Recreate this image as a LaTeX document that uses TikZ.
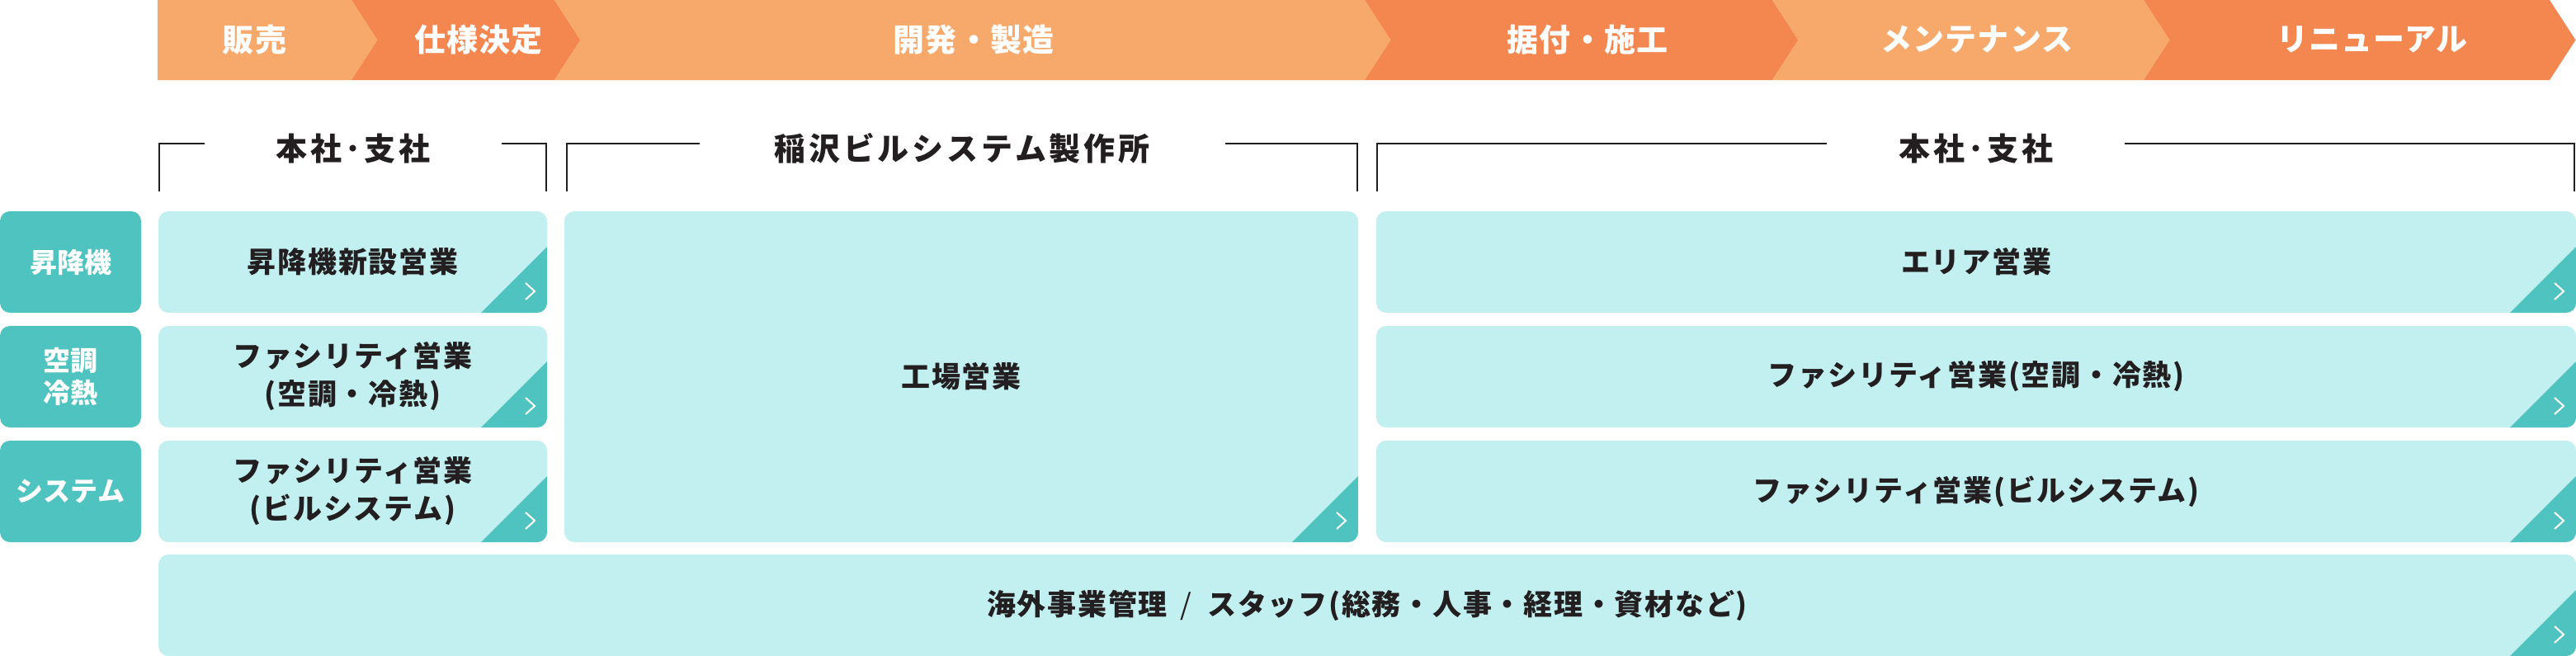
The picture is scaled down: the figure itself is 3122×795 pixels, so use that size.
\documentclass[tikz,border=0pt]{standalone}
\usepackage{fontspec}
\setmainfont{Noto Sans CJK JP}
\newfontfamily\jpstage{Noto Sans CJK JP}[LetterSpace=3]
\newfontfamily\jphead{Noto Sans CJK JP}[LetterSpace=10]
\newfontfamily\jpunit{Noto Sans CJK JP}[LetterSpace=5]

\definecolor{bandlight}{HTML}{F7A96B}
\definecolor{banddark}{HTML}{F48750}
\definecolor{boxfill}{HTML}{C2EFF0}
\definecolor{boxmark}{HTML}{4FC3BF}
\definecolor{ink}{HTML}{231F20}

\tikzset{
  stage/.style={text=white, inner sep=0pt, font=\jpstage\bfseries\fontsize{38}{38}\selectfont},
  heading/.style={text=ink, inner sep=0pt, font=\jphead\bfseries\fontsize{38}{38}\selectfont},
  bracket/.style={ink, line width=2.8pt},
  field/.style={fill=boxmark, rounded corners=12pt, text=white, align=center, inner sep=0pt,
    font=\bfseries\fontsize{33}{39}\selectfont},
  unit/.style={fill=boxfill, rounded corners=12pt, text=ink, align=center, inner sep=0pt,
    font=\jpunit\bfseries\fontsize{35}{46}\selectfont,
    path picture={
      \fill[boxmark, sharp corners] ([xshift=-80pt]path picture bounding box.south east)
        -- ([yshift=80pt]path picture bounding box.south east)
        -- (path picture bounding box.south east) -- cycle;
      \draw[white, sharp corners, line width=2pt]
        ([xshift=-26pt,yshift=36pt]path picture bounding box.south east)
        -- ([xshift=-15pt,yshift=26pt]path picture bounding box.south east)
        -- ([xshift=-26pt,yshift=16pt]path picture bounding box.south east);
    }},
}

\begin{document}
\begin{tikzpicture}[x=1pt,y=-1pt]

            \useasboundingbox (0,0) rectangle (3122,795);

            % Process band
            \fill[bandlight] (191,0) -- (426,0) -- (457.5,48.5) -- (426,97) -- (191,97) -- cycle; % Sales
            \fill[banddark] (426,0) -- (672,0) -- (703.5,48.5) -- (672,97) -- (426,97) -- (457.5,48.5) -- cycle; % Specification
            \fill[bandlight] (672,0) -- (1654,0) -- (1685.5,48.5) -- (1654,97) -- (672,97) -- (703.5,48.5) -- cycle; % Development
            \fill[banddark] (1654,0) -- (2148,0) -- (2179.5,48.5) -- (2148,97) -- (1654,97) -- (1685.5,48.5) -- cycle; % Installation
            \fill[bandlight] (2148,0) -- (2598,0) -- (2629.5,48.5) -- (2598,97) -- (2148,97) -- (2179.5,48.5) -- cycle; % Maintenance
            \fill[banddark] (2598,0) -- (3090,0) -- (3121.5,48.5) -- (3090,97) -- (2598,97) -- (2629.5,48.5) -- cycle; % Renewal

            \node[stage] (sales) at (308.5,48) {販売};
            \node[stage] (spec) at (580,48) {仕様決定};
            \node[stage] (devel) at (1180,48) {開発・製造};
            \node[stage] (install) at (1924,48) {据付・施工};
            \node[stage] (maint) at (2396,48) {メンテナンス};
            \node[stage] (renew) at (2875,48) {リニューアル};

            % Headings with brackets
            \node[heading] (headL) at (428,180) {本社･支社};
            \draw[bracket] (193,232) -- (193,174) -- (248,174); % left part
            \draw[bracket] (608,174) -- (662,174) -- (662,232); % right part

            \node[heading] (headM) at (1166,180) {稲沢ビルシステム製作所};
            \draw[bracket] (687,232) -- (687,174) -- (848,174);
            \draw[bracket] (1485,174) -- (1645,174) -- (1645,232);

            \node[heading] (headR) at (2395,180) {本社･支社};
            \draw[bracket] (1669,232) -- (1669,174) -- (2214,174);
            \draw[bracket] (2575,174) -- (3120,174) -- (3120,232);

            % Field labels
            \node[field, minimum width=171, minimum height=123] (lift) at (85.5,317.5) {昇降機};
            \node[field, minimum width=171, minimum height=123] (hvac) at (85.5,456.5) {空調\\冷熱};
            \node[field, minimum width=171, minimum height=123] (sys) at (85.5,595.5) {システム};

            % Head office and branches, sales side
            \node[unit, minimum width=471, minimum height=123] (newlift) at (427.5,317.5) {昇降機新設営業};
            \node[unit, minimum width=471, minimum height=123] (facA) at (427.5,456.5) {ファシリティ営業\\(空調・冷熱)};
            \node[unit, minimum width=471, minimum height=123] (facB) at (427.5,595.5) {ファシリティ営業\\(ビルシステム)};

            % Works
            \node[unit, minimum width=962, minimum height=401] (works) at (1165,456.5) {工場営業};

            % Head office and branches, service side
            \node[unit, minimum width=1454, minimum height=123] (area) at (2395,317.5) {エリア営業};
            \node[unit, minimum width=1454, minimum height=123] (facC) at (2395,456.5) {ファシリティ営業(空調・冷熱)};
            \node[unit, minimum width=1454, minimum height=123] (facD) at (2395,595.5) {ファシリティ営業(ビルシステム)};

            % Staff
            \node[unit, minimum width=2930, minimum height=123] (staff) at (1657,733.5) {海外事業管理\hspace{0.45em}{\mdseries /}\hspace{0.55em}スタッフ(総務・人事・経理・資材など)};

\end{tikzpicture}
\end{document}
